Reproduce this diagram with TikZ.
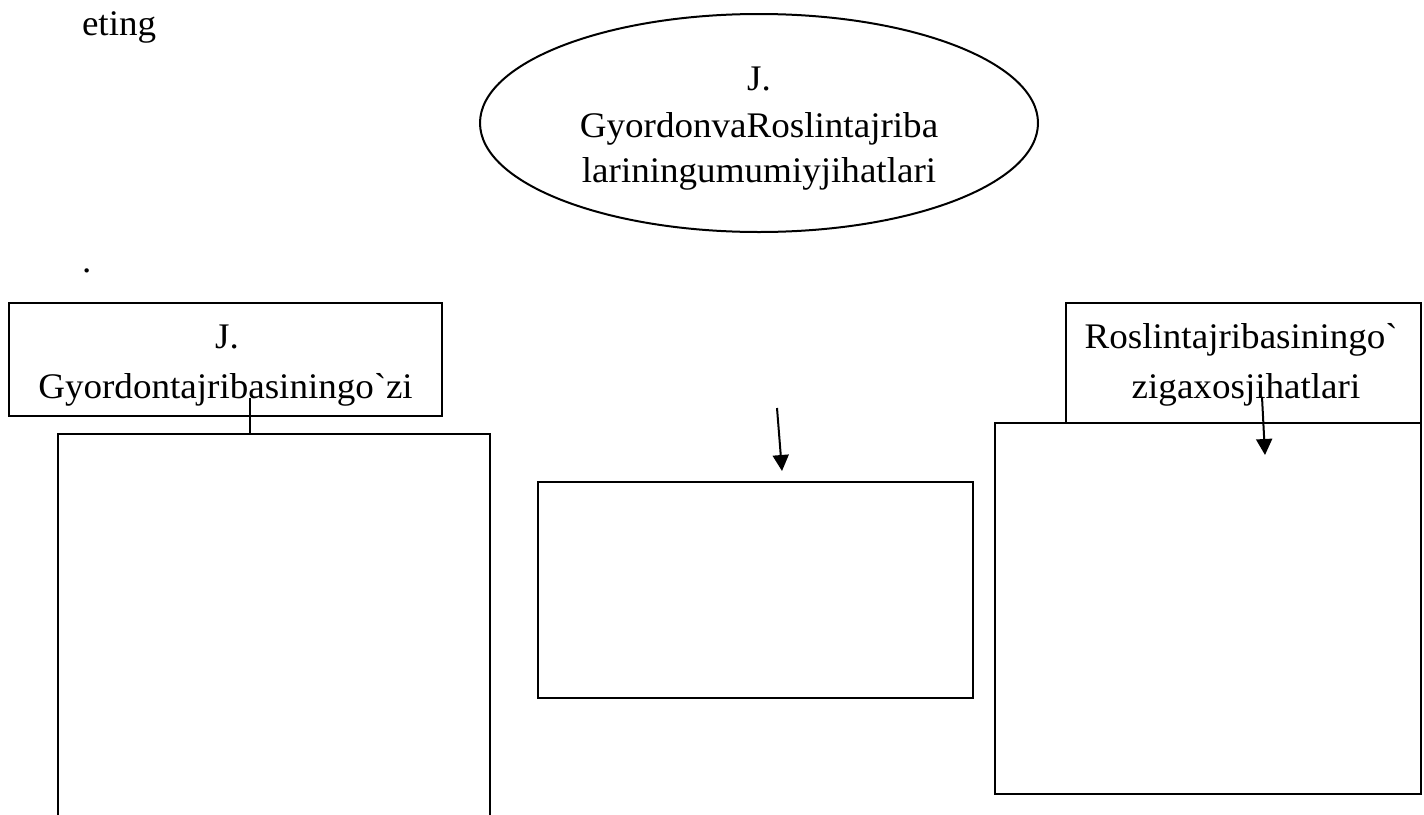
\documentclass[tikz,border=0pt]{standalone}
\usepackage{fontspec}
\setmainfont{Liberation Serif}[FakeStretch=1.03]
\usetikzlibrary{shapes.geometric,arrows.meta}
\tikzset{
  frame/.style={draw=black, line width=2pt, inner sep=0pt, outer sep=0pt},
  oval/.style={ellipse, draw=black, line width=2pt, inner sep=0pt, outer sep=0pt},
  txt/.style={anchor=base, inner sep=0pt, outer sep=0pt, font=\fontsize{36}{46}\selectfont},
  link/.style={line width=2pt},
  arr/.style={line width=2pt, -{Triangle[length=16pt,width=16pt]}},
}
\begin{document}
\begin{tikzpicture}[x=1pt,y=-1pt]
\useasboundingbox (0,0) rectangle (1424,814);
% free text
\node[txt, anchor=base west] (eting) at (82,35) {eting};
\node[txt, anchor=base west] (dot) at (82,272) {.};
% ellipse
\node[oval, minimum width=558, minimum height=218] (top) at (759,123) {};
\node[txt] (t1) at (759,90) {J.};
\node[txt] (t2) at (759,137) {GyordonvaRoslintajriba};
\node[txt] (t3) at (759,182) {lariningumumiyjihatlari};
% left
\node[frame, minimum width=433, minimum height=113] (gbox) at (225.5,359.5) {};
\node[txt] (g1) at (227,348) {J.};
\node[txt] (g2) at (225.5,398) {Gyordontajribasiningo\textasciigrave zi};
\node[frame, minimum width=432, minimum height=400] (gbig) at (274,634) {};
% middle
\node[frame, minimum width=435, minimum height=216] (mid) at (755.5,590) {};
% right
\node[frame, minimum width=355, minimum height=120] (rbox) at (1243.5,363) {};
\node[txt] (r1) at (1241,348) {Roslintajribasiningo\textasciigrave};
\node[txt] (r2) at (1246,398) {zigaxosjihatlari};
\node[frame, minimum width=426, minimum height=371] (rbig) at (1208,608.5) {};
% connectors
\coordinate (c1) at (250,398);
\draw[link] (c1) -- (c1 |- gbig.north);
\coordinate (m1) at (777,408);
\coordinate (m2) at (782,471);
\draw[arr] (m1) -- (m2);
\coordinate (q1) at (1262,397);
\coordinate (q2) at (1265,455);
\draw[arr] (q1) -- (q2);
\end{tikzpicture}
\end{document}
